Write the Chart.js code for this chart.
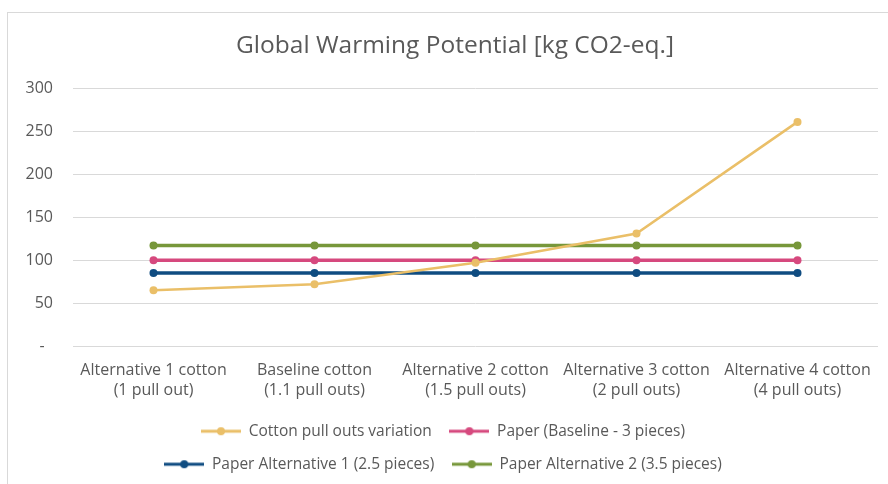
<!DOCTYPE html>
<html>
<head>
<meta charset="utf-8">
<script src="https://cdn.jsdelivr.net/npm/chart.js@4/dist/chart.umd.min.js"></script>
<style>
  html, body { margin: 0; padding: 0; background: #fff; overflow: hidden; }
  body { width: 888px; height: 484px; position: relative; }
  #frame { position: absolute; left: 7px; top: 12px; width: 900px; height: 480px; border: 1px solid #d9d9d9; }
  #wrap { position: absolute; left: 8px; top: 13px; width: 894px; height: 471px; }
</style>
</head>
<body>
<div id="frame"></div>
<div id="wrap"><canvas id="chart"></canvas></div>
<script>
// Data
const categories = [
  ['Alternative 1 cotton', '(1 pull out)'],
  ['Baseline cotton', '(1.1 pull outs)'],
  ['Alternative 2 cotton', '(1.5 pull outs)'],
  ['Alternative 3 cotton', '(2 pull outs)'],
  ['Alternative 4 cotton', '(4 pull outs)']
];
const cottonVariation = [65, 72, 97, 131, 261];
const paperBaseline = [100, 100, 100, 100, 100];
const paperAlt1 = [85, 85, 85, 85, 85];
const paperAlt2 = [117, 117, 117, 117, 117];
const yTicks = [0, 50, 100, 150, 200, 250, 300];

const FONT = '"Open Sans", sans-serif';
const GREY = '#595959';

// little line+dot swatch for the legend
function swatch(color) {
  const c = document.createElement('canvas');
  c.width = 40; c.height = 10;
  const g = c.getContext('2d');
  g.strokeStyle = color; g.lineWidth = 3;
  g.beginPath(); g.moveTo(0, 5); g.lineTo(40, 5); g.stroke();
  g.fillStyle = color;
  g.beginPath(); g.arc(20, 5, 4, 0, Math.PI * 2); g.fill();
  return c;
}

function series(label, data, color, width, order) {
  return {
    label, data, order,
    borderColor: color, backgroundColor: color,
    borderWidth: width, pointRadius: 4, pointHoverRadius: 4,
    pointBorderWidth: 0, pointStyle: 'circle', tension: 0,
    legendSwatch: swatch(color)
  };
}

const datasets = [
  series('Cotton pull outs variation', cottonVariation, '#EABF68', 2.5, 0),
  series('Paper (Baseline - 3 pieces)', paperBaseline, '#D6497E', 3.5, 2),
  series('Paper Alternative 1 (2.5 pieces)', paperAlt1, '#0F4C81', 3.5, 3),
  series('Paper Alternative 2 (3.5 pieces)', paperAlt2, '#77973A', 3.5, 1)
];

// title sits a bit right of the canvas centre in the original
const shiftTitle = {
  id: 'shiftTitle',
  afterLayout(chart) {
    chart.titleBlock.left += 12;
    chart.titleBlock.right += 12;
  }
};

const chart = new Chart(document.getElementById('chart'), {
  type: 'line',
  data: { labels: categories, datasets },
  plugins: [shiftTitle],
  options: {
    responsive: true,
    maintainAspectRatio: false,
    animation: false,
    layout: { padding: { left: 0, right: 24, top: 0, bottom: 2 } },
    plugins: {
      title: {
        display: true,
        text: 'Global Warming Potential [kg CO2-eq.]',
        color: GREY,
        font: { family: FONT, size: 24.5, weight: 'normal' },
        padding: { top: 18, bottom: 28 }
      },
      legend: {
        position: 'bottom',
        labels: {
          color: GREY,
          font: { family: FONT, size: 15.5 },
          usePointStyle: true,
          pointStyleWidth: 40,
          padding: 17.5,
          generateLabels(chart) {
            return chart.data.datasets.map((ds, i) => ({
              text: ds.label,
              datasetIndex: i,
              pointStyle: ds.legendSwatch,
              fillStyle: ds.borderColor,
              strokeStyle: ds.borderColor,
              lineWidth: 0,
              fontColor: GREY,
              hidden: false
            }));
          }
        }
      },
      tooltip: { enabled: false }
    },
    scales: {
      x: {
        offset: true,
        grid: { display: false },
        border: { display: false },
        ticks: {
          color: GREY,
          font: { family: FONT, size: 16, lineHeight: 1.25 },
          padding: 6,
          maxRotation: 0,
          autoSkip: false
        }
      },
      y: {
        min: 0,
        max: 300,
        afterBuildTicks(scale) { scale.ticks = yTicks.map(v => ({ value: v })); },
        afterFit(scale) { scale.width = 65; },
        grid: { color: '#d9d9d9', lineWidth: 1, drawTicks: false },
        border: { display: false },
        ticks: {
          color: GREY,
          font: { family: FONT, size: 16 },
          padding: 20,
          callback: v => v === 0 ? '-  ' : v
        }
      }
    }
  }
});

// two legend entries per row, as in the original
const lg = chart.legend;
const origUpdate = lg.update.bind(lg);
lg.update = (w, h, m) => origUpdate(Math.min(w, 640), h, m);
chart.update();
</script>
</body>
</html>
